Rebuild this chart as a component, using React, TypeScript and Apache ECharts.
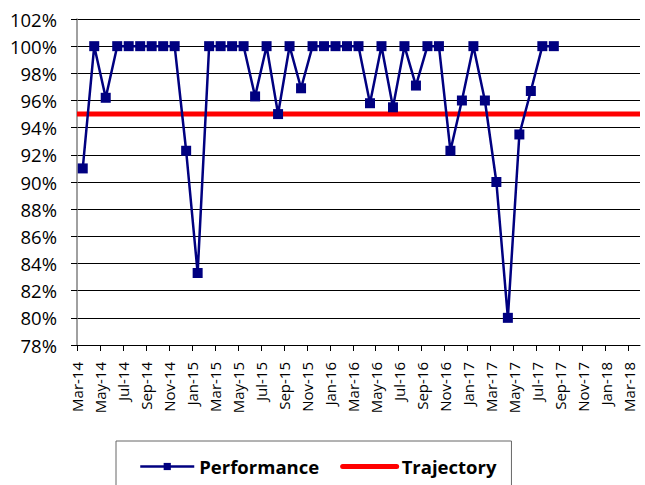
import React, { useEffect, useRef } from "react";
import * as echarts from "echarts";

const months: string[] = [
  "Mar-14", "Apr-14", "May-14", "Jun-14", "Jul-14", "Aug-14", "Sep-14", "Oct-14", "Nov-14", "Dec-14",
  "Jan-15", "Feb-15", "Mar-15", "Apr-15", "May-15", "Jun-15", "Jul-15", "Aug-15", "Sep-15", "Oct-15", "Nov-15", "Dec-15",
  "Jan-16", "Feb-16", "Mar-16", "Apr-16", "May-16", "Jun-16", "Jul-16", "Aug-16", "Sep-16", "Oct-16", "Nov-16", "Dec-16",
  "Jan-17", "Feb-17", "Mar-17", "Apr-17", "May-17", "Jun-17", "Jul-17", "Aug-17", "Sep-17", "Oct-17", "Nov-17", "Dec-17",
  "Jan-18", "Feb-18", "Mar-18",
];

// Performance (%) from Mar-14 to Aug-17
const performance: number[] = [
  91.0, 100, 96.2, 100, 100, 100, 100, 100, 100, 92.3,
  83.3, 100, 100, 100, 100, 96.3, 100, 95.0, 100, 96.9, 100, 100,
  100, 100, 100, 95.8, 100, 95.5, 100, 97.1, 100, 100, 92.3, 96.0,
  100, 96.0, 90.0, 80.0, 93.5, 96.7, 100, 100,
];

const trajectoryValue = 95;

const yMin = 78;
const yMax = 102;
const yStep = 2;
const labelStep = 2;

const FONT = "'Open Sans', sans-serif";

export default function App() {
  const ref = useRef<HTMLDivElement>(null);

  useEffect(() => {
    if (!ref.current) return;
    const chart = echarts.init(ref.current, undefined, { renderer: "svg" });
    const tickIdx = months.map((_, i) => i).filter((i) => i % labelStep === 0);
    chart.setOption({
      animation: false,
      backgroundColor: "#ffffff",
      grid: { left: 77, top: 19, right: 5, bottom: 140 },
      xAxis: {
        type: "value",
        min: 0,
        max: months.length,
        interval: labelStep,
        splitLine: { show: false },
        axisLine: { show: true, lineStyle: { color: "#000", width: 1 } },
        axisTick: { show: true, length: 6, customValues: tickIdx, lineStyle: { color: "#000" } },
        axisLabel: {
          customValues: tickIdx,
          rotate: 90,
          margin: 17,
          color: "#000",
          fontFamily: FONT,
          fontSize: 15,
          formatter: (v: number) => months[Math.round(v)] ?? "",
        },
      },
      yAxis: {
        type: "value",
        min: yMin,
        max: yMax,
        interval: yStep,
        axisLine: { show: true, lineStyle: { color: "#808080", width: 1.5 } },
        axisTick: { show: true, length: 6, lineStyle: { color: "#000" } },
        splitLine: { show: true, lineStyle: { color: "#000", width: 1 } },
        axisLabel: {
          margin: 20,
          color: "#000",
          fontFamily: FONT,
          fontSize: 18.5,
          formatter: (v: number) => v + "%",
        },
      },
      legend: {
        data: [
          { name: "Performance", lineStyle: { width: 2.5 } },
          { name: "Trajectory", itemStyle: { opacity: 0 }, lineStyle: { width: 5, cap: "round" } },
        ],
        left: 116,
        top: 441,
        orient: "horizontal",
        itemWidth: 54,
        itemHeight: 9,
        itemGap: 21,
        padding: [16, 15, 40, 23],
        borderColor: "#666",
        borderWidth: 1,
        textStyle: { color: "#000", fontFamily: FONT, fontSize: 18.5, fontWeight: "bold" },
      },
      series: [
        {
          name: "Trajectory",
          type: "line",
          data: [[0, trajectoryValue], [months.length, trajectoryValue]],
          symbol: "none",
          lineStyle: { color: "#ff0000", width: 5 },
          itemStyle: { color: "#ff0000" },
          z: 2,
        },
        {
          name: "Performance",
          type: "line",
          data: performance.map((v, i) => [i + 0.5, v]),
          symbol: "rect",
          symbolSize: 10,
          lineStyle: { color: "#000080", width: 2.5 },
          itemStyle: { color: "#000080" },
          z: 3,
        },
      ],
    });
    return () => chart.dispose();
  }, []);

  return (
    <div
      ref={ref}
      style={{ position: "fixed", left: 0, top: 0, width: 645, height: 485, background: "#fff" }}
    />
  );
}
